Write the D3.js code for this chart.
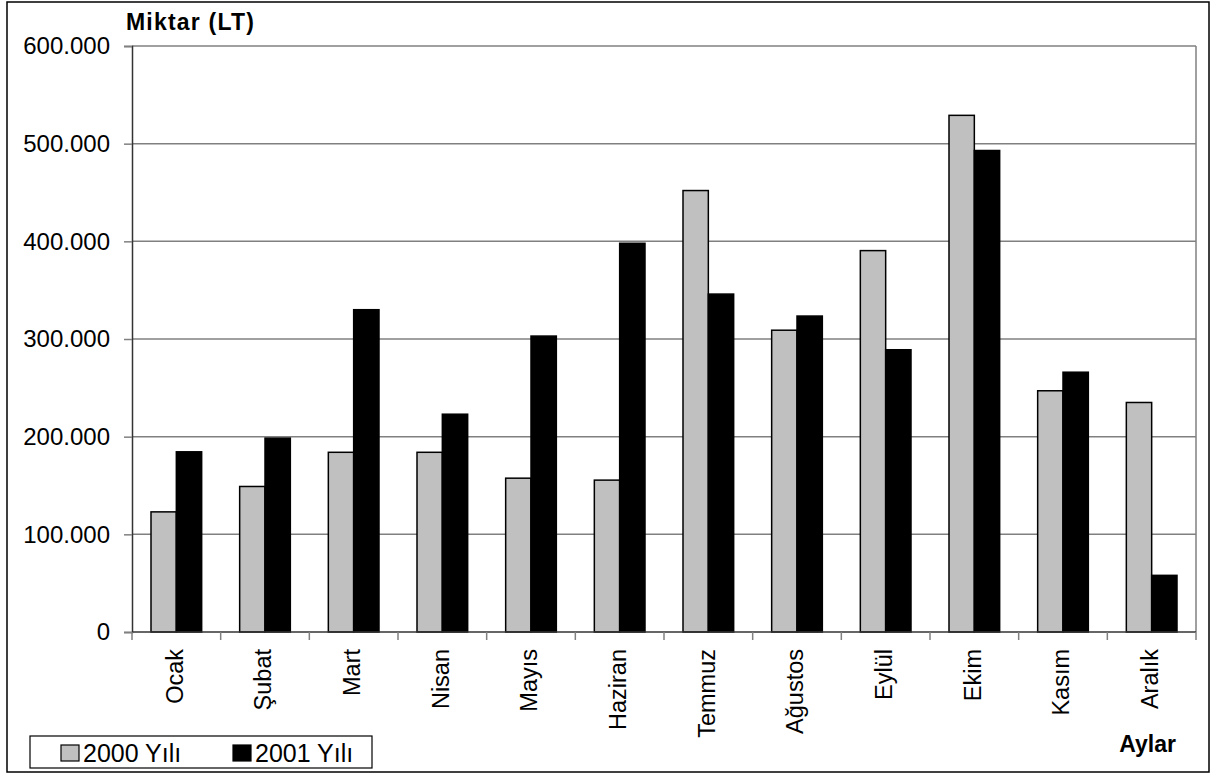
<!DOCTYPE html>
<html>
<head>
<meta charset="utf-8">
<script src="https://cdn.jsdelivr.net/npm/d3@7/dist/d3.min.js"></script>
<style>
  body { margin: 0; background: #fff; }
  svg text { font-family: "Liberation Sans", Arial, sans-serif; fill: #000; }
</style>
</head>
<body>
<div id="chart"></div>
<script>
// months on the x axis
const months = ["Ocak", "Şubat", "Mart", "Nisan", "Mayıs", "Haziran", "Temmuz", "Ağustos", "Eylül", "Ekim", "Kasım", "Aralık"];
// quantities (LT)
const values2000 = [123000, 149000, 184000, 184000, 157500, 155500, 452000, 309000, 390500, 529000, 247000, 235000];
const values2001 = [184500, 198500, 330000, 223000, 303000, 398000, 346000, 323500, 289000, 493000, 266000, 58000];
const seriesNames = ["2000 Yılı", "2001 Yılı"];
const yTicks = [0, 100000, 200000, 300000, 400000, 500000, 600000];

const W = 1217, H = 775;
const plot = { left: 132, right: 1196, top: 46, bottom: 632 };

const svg = d3.select('#chart').append('svg')
  .attr('width', W)
  .attr('height', H);

// outer chart border
svg.append('rect')
  .attr('x', 7).attr('y', 2)
  .attr('width', 1202).attr('height', 770)
  .attr('fill', 'none').attr('stroke', '#000').attr('stroke-width', 1.5);

const x = d3.scaleBand().domain(months).range([plot.left, plot.right]).paddingInner(0).paddingOuter(0);
// gap width 150% -> two bars take 2/3.5 of the band
const inner = d3.scaleBand().domain([0, 1]).range([0, x.bandwidth() * 2 / 3.5]);
const groupOffset = (x.bandwidth() - inner.range()[1]) / 2;
const y = d3.scaleLinear().domain([0, 600000]).range([plot.bottom, plot.top]);

const trFormat = d3.formatLocale({ decimal: ",", thousands: ".", grouping: [3], currency: ["", ""] }).format(",");

// gridlines
svg.append('g')
  .selectAll('line')
  .data(yTicks.filter(d => d > 0))
  .enter().append('line')
  .attr('x1', plot.left).attr('x2', plot.right)
  .attr('y1', d => y(d)).attr('y2', d => y(d))
  .attr('stroke', '#808080').attr('stroke-width', 1.5);

// right edge of plot area
svg.append('line')
  .attr('x1', plot.right).attr('x2', plot.right)
  .attr('y1', plot.top).attr('y2', plot.bottom)
  .attr('stroke', '#808080').attr('stroke-width', 1.5);

// bars
const groups = svg.append('g')
  .selectAll('g')
  .data(months)
  .enter().append('g')
  .attr('transform', d => 'translate(' + (x(d) + groupOffset) + ',0)');

groups.selectAll('rect')
  .data((d, i) => [values2000[i], values2001[i]])
  .enter().append('rect')
  .attr('x', (d, j) => inner(j))
  .attr('width', inner.bandwidth())
  .attr('y', d => y(d))
  .attr('height', d => plot.bottom - y(d))
  .attr('fill', (d, j) => j === 0 ? '#c0c0c0' : '#000')
  .attr('stroke', '#000').attr('stroke-width', 1.5);

// y axis
const yAxis = svg.append('g')
  .attr('transform', 'translate(' + plot.left + ',0)')
  .call(d3.axisLeft(y).tickValues(yTicks).tickFormat(d => trFormat(d)).tickSize(8).tickPadding(14));
yAxis.select('.domain').attr('stroke', '#333').attr('stroke-width', 1.5);
yAxis.selectAll('.tick line').attr('stroke', '#808080').attr('stroke-width', 1.5);
yAxis.selectAll('.tick text')
  .style('font-size', '24px')
  .attr('font-family', null);

// x axis: ticks on the category boundaries
const xAxis = svg.append('g');
xAxis.append('line')
  .attr('x1', plot.left).attr('x2', plot.right)
  .attr('y1', plot.bottom).attr('y2', plot.bottom)
  .attr('stroke', '#333').attr('stroke-width', 1.5);
xAxis.selectAll('line.tk')
  .data(months.concat(['end']))
  .enter().append('line')
  .attr('class', 'tk')
  .attr('x1', (d, i) => plot.left + i * x.bandwidth())
  .attr('x2', (d, i) => plot.left + i * x.bandwidth())
  .attr('y1', plot.bottom).attr('y2', plot.bottom + 8)
  .attr('stroke', '#808080').attr('stroke-width', 1.5);
xAxis.selectAll('text')
  .data(months)
  .enter().append('text')
  .attr('transform', d => 'translate(' + (x(d) + x.bandwidth() / 2 - 2) + ',' + 649 + ') rotate(-90)')
  .attr('text-anchor', 'end')
  .attr('dy', '0.35em')
  .style('font-size', '23.5px')
  .text(d => d);

// axis titles
svg.append('text')
  .attr('x', 126).attr('y', 30)
  .style('font-size', '23px').style('font-weight', 'bold')
  .style('letter-spacing', '1.2px')
  .text('Miktar (LT)');
svg.append('text')
  .attr('x', 1176).attr('y', 752)
  .attr('text-anchor', 'end')
  .style('font-size', '23px').style('font-weight', 'bold')
  .text('Aylar');

// legend
const legend = svg.append('g');
legend.append('rect')
  .attr('x', 30).attr('y', 736)
  .attr('width', 342).attr('height', 32)
  .attr('fill', '#fff').attr('stroke', '#000').attr('stroke-width', 1.2);
const items = legend.selectAll('g.item')
  .data(seriesNames)
  .enter().append('g')
  .attr('class', 'item')
  .attr('transform', (d, i) => 'translate(' + (61 + i * 172) + ',745)');
items.append('rect')
  .attr('width', 18).attr('height', 16)
  .attr('fill', (d, i) => i === 0 ? '#c0c0c0' : '#000')
  .attr('stroke', '#000').attr('stroke-width', 1.2);
items.append('text')
  .attr('x', 22).attr('y', 17)
  .style('font-size', '25px')
  .text(d => d);
</script>
</body>
</html>
